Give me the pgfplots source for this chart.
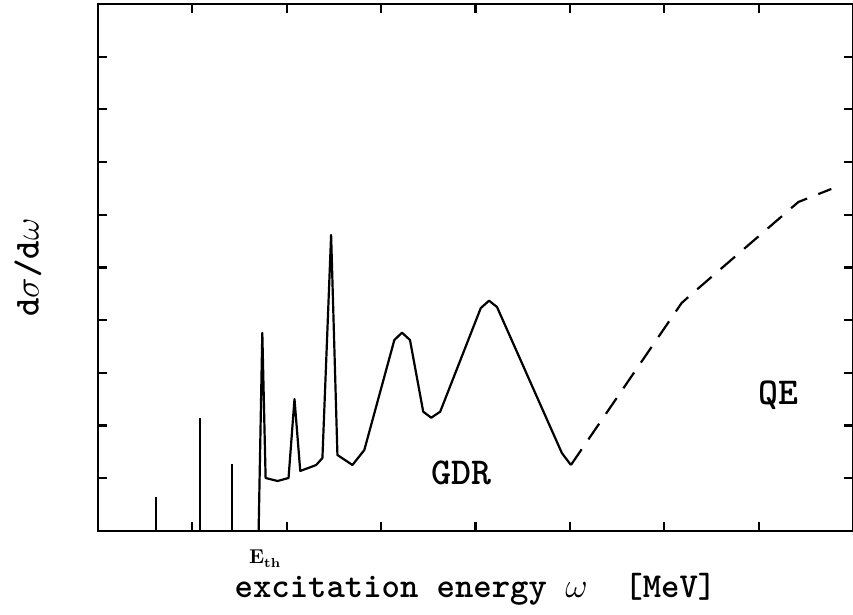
\documentclass[border=0pt]{standalone}
\usepackage{pgfplots}
\pgfplotsset{compat=1.18}
\begin{document}
\begin{tikzpicture}
\begin{axis}[
  scale only axis,
  width=377.5pt, height=263.5pt,
  xmin=0, xmax=8, ymin=0, ymax=10,
  xtick={1,...,7}, ytick={1,...,9},
  xticklabels={}, yticklabels={},
  tick align=inside,
  major tick length=4.5pt,
  every tick/.style={black, line width=1.1pt},
  axis line style={line width=1.3pt},
  clip=false,
]
  % discrete levels below threshold
  \addplot[ycomb, black, line width=1pt, mark=none] coordinates {
    (0.61,0.645) (1.086,2.14) (1.417,1.27)
  };
  % resonances + GDR
  \addplot[black, line width=1.1pt, mark=none, line join=round] coordinates {
    (1.702,0) (1.741,3.76) (1.776,1.006) (1.903,0.949) (2.019,1.006)
    (2.082,2.505) (2.143,1.139) (2.312,1.252) (2.378,1.385) (2.470,5.617)
    (2.537,1.442) (2.696,1.252) (2.822,1.537) (3.140,3.624) (3.221,3.763)
    (3.306,3.624) (3.446,2.264) (3.531,2.150) (3.626,2.264) (4.056,4.231)
    (4.144,4.370) (4.228,4.250) (4.915,1.480) (5.011,1.252)
  };
  % quasi-elastic
  \addplot[black, line width=1.1pt, mark=none, dash pattern=on 9.5pt off 6pt] coordinates {
    (5.011,1.252) (6.184,4.326) (6.279,4.478) (7.421,6.243) (7.770,6.490)
  };
  \node[font=\fontsize{19}{22}\selectfont\ttfamily\fontseries{b}\selectfont] at (axis cs:3.85,1.11) {GDR};
  \node[font=\fontsize{19}{22}\selectfont\ttfamily\fontseries{b}\selectfont] at (axis cs:7.21,2.58) {QE};
  \node[anchor=base, inner sep=0pt, font=\fontsize{10}{11}\selectfont\bfseries] at (axis cs:1.765,0) [yshift=-16pt]
    {E\raisebox{-2pt}{\fontsize{6.5}{7}\selectfont th}};
\end{axis}
\node[anchor=base, inner sep=0pt, font=\fontsize{17.5}{20}\selectfont\ttfamily\fontseries{b}\selectfont, yshift=-33pt]
  at (current axis.south) {excitation energy $\omega$\ \ [MeV]};
\node[rotate=90, font=\fontsize{17.5}{20}\selectfont\ttfamily\fontseries{b}\selectfont]
  at ([xshift=-35pt]current axis.west) {d$\sigma$/d$\omega$};
\pgfresetboundingbox
\path[use as bounding box] ([xshift=-49pt,yshift=-41.5pt]current axis.south west)
  rectangle ([yshift=2pt]current axis.north east);
\end{tikzpicture}
\end{document}
